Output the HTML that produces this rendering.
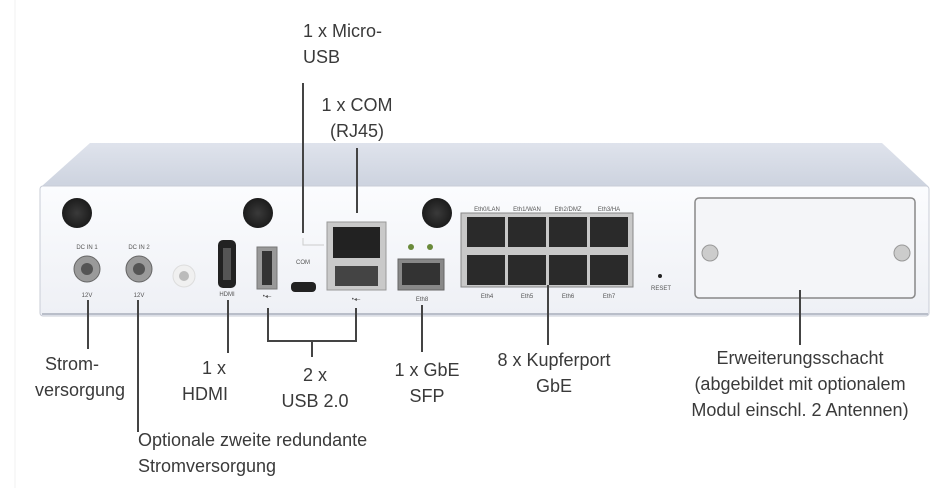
<!DOCTYPE html>
<html><head><meta charset="utf-8"><style>
html,body{margin:0;padding:0;background:#fff;}
svg{display:block;}
text{font-family:"Liberation Sans",sans-serif;fill:#3a3a3a;}
.l{font-size:18px;}
.s{font-size:6px;fill:#555;}
</style></head><body>
<svg width="951" height="488" viewBox="0 0 951 488" xmlns="http://www.w3.org/2000/svg">
<defs>
<linearGradient id="top" x1="0" y1="0" x2="0" y2="1"><stop offset="0" stop-color="#dfe3ec"/><stop offset="1" stop-color="#cdd3df"/></linearGradient>
<linearGradient id="face" x1="0" y1="0" x2="0" y2="1"><stop offset="0" stop-color="#fbfcfe"/><stop offset="1" stop-color="#eef0f5"/></linearGradient>
<radialGradient id="knob"><stop offset="0" stop-color="#3a3a3a"/><stop offset="1" stop-color="#1c1c1c"/></radialGradient>
</defs>
<line x1="15" y1="0" x2="15" y2="488" stroke="#f0f0f0"/>
<!-- device -->
<polygon points="90,143 882,143 928,186 42,186" fill="url(#top)"/>
<rect x="40" y="186" width="889" height="130" rx="3" fill="url(#face)" stroke="#c8ccd6"/>
<line x1="42" y1="314" x2="928" y2="314" stroke="#b9bec9" stroke-width="2"/>
<!-- knobs -->
<circle cx="77" cy="213" r="15" fill="url(#knob)"/>
<circle cx="258" cy="213" r="15" fill="url(#knob)"/>
<circle cx="437" cy="213" r="15" fill="url(#knob)"/>
<!-- DC -->
<text class="s" x="87" y="249" text-anchor="middle">DC IN 1</text>
<text class="s" x="139" y="249" text-anchor="middle">DC IN 2</text>
<circle cx="87" cy="269" r="13" fill="#9a9a9a" stroke="#666"/><circle cx="87" cy="269" r="6" fill="#555"/>
<circle cx="139" cy="269" r="13" fill="#9a9a9a" stroke="#666"/><circle cx="139" cy="269" r="6" fill="#555"/>
<text class="s" x="87" y="297" text-anchor="middle">12V</text>
<text class="s" x="139" y="297" text-anchor="middle">12V</text>
<circle cx="184" cy="276" r="11" fill="#f0f0f0" stroke="#ddd"/><circle cx="184" cy="276" r="5" fill="#bbb"/>
<!-- HDMI -->
<rect x="218" y="240" width="18" height="48" rx="5" fill="#222"/>
<rect x="223" y="248" width="8" height="32" fill="#555"/>
<text class="s" x="227" y="296" text-anchor="middle">HDMI</text>
<!-- USB1 -->
<rect x="257" y="247" width="20" height="42" fill="#999" stroke="#777"/>
<rect x="262" y="251" width="10" height="34" fill="#333"/>
<text class="s" x="267" y="298" text-anchor="middle">•◂–</text>
<!-- micro usb -->
<text class="s" x="303" y="264" text-anchor="middle">COM</text>
<path d="M303,238 V245 H324" stroke="#ccc" fill="none"/>
<rect x="291" y="282" width="25" height="10" rx="4" fill="#222"/>
<!-- COM + usb block -->
<rect x="327" y="222" width="59" height="68" fill="#c9c9c9" stroke="#999"/>
<rect x="333" y="227" width="47" height="31" fill="#222"/>
<rect x="335" y="266" width="43" height="20" fill="#444"/>
<text class="s" x="356" y="301" text-anchor="middle">•◂–</text>
<!-- SFP -->
<circle cx="411" cy="247" r="3" fill="#6a8a3a"/><circle cx="430" cy="247" r="3" fill="#6a8a3a"/>
<rect x="398" y="259" width="46" height="31" fill="#888" stroke="#666"/>
<rect x="402" y="263" width="38" height="22" fill="#333"/>
<text class="s" x="422" y="301" text-anchor="middle">Eth8</text>
<!-- eth -->
<text class="s" x="487" y="211" text-anchor="middle">Eth0/LAN</text>
<text class="s" x="527" y="211" text-anchor="middle">Eth1/WAN</text>
<text class="s" x="568" y="211" text-anchor="middle">Eth2/DMZ</text>
<text class="s" x="609" y="211" text-anchor="middle">Eth3/HA</text>
<rect x="461" y="213" width="172" height="74" fill="#c8c8c8" stroke="#888"/>
<g fill="#2a2a2a">
<rect x="467" y="217" width="38" height="30"/><rect x="508" y="217" width="38" height="30"/><rect x="549" y="217" width="38" height="30"/><rect x="590" y="217" width="38" height="30"/>
<rect x="467" y="255" width="38" height="30"/><rect x="508" y="255" width="38" height="30"/><rect x="549" y="255" width="38" height="30"/><rect x="590" y="255" width="38" height="30"/>
</g>
<text class="s" x="487" y="298" text-anchor="middle">Eth4</text>
<text class="s" x="527" y="298" text-anchor="middle">Eth5</text>
<text class="s" x="568" y="298" text-anchor="middle">Eth6</text>
<text class="s" x="609" y="298" text-anchor="middle">Eth7</text>
<circle cx="660" cy="276" r="2" fill="#222"/>
<text class="s" x="661" y="290" text-anchor="middle">RESET</text>
<!-- module -->
<rect x="695" y="198" width="220" height="100" rx="4" fill="#f4f5f8" stroke="#888" stroke-width="1.5"/>
<circle cx="710" cy="253" r="8" fill="#ccc" stroke="#999"/>
<circle cx="902" cy="253" r="8" fill="#ccc" stroke="#999"/>
<!-- connectors -->
<g stroke="#444" stroke-width="2" fill="none">
<line x1="303" y1="83" x2="303" y2="233"/>
<line x1="357" y1="148" x2="357" y2="213"/>
<line x1="88" y1="300" x2="88" y2="349"/>
<line x1="138" y1="300" x2="138" y2="432"/>
<line x1="228" y1="300" x2="228" y2="353"/>
<path d="M268,308 V341 H356 V308"/>
<line x1="312" y1="341" x2="312" y2="357"/>
<line x1="422" y1="305" x2="422" y2="352"/>
<line x1="548" y1="285" x2="548" y2="345"/>
<line x1="800" y1="290" x2="800" y2="345"/>
</g>
<!-- labels -->
<text class="l" x="303" y="37">1 x Micro-</text>
<text class="l" x="303" y="63">USB</text>
<text class="l" x="357" y="111" text-anchor="middle">1 x COM</text>
<text class="l" x="357" y="137" text-anchor="middle">(RJ45)</text>
<text class="l" x="72" y="370" text-anchor="middle">Strom-</text>
<text class="l" x="80" y="396" text-anchor="middle">versorgung</text>
<text class="l" x="214" y="374" text-anchor="middle">1 x</text>
<text class="l" x="205" y="400" text-anchor="middle">HDMI</text>
<text class="l" x="315" y="381" text-anchor="middle">2 x</text>
<text class="l" x="315" y="407" text-anchor="middle">USB 2.0</text>
<text class="l" x="427" y="376" text-anchor="middle">1 x GbE</text>
<text class="l" x="427" y="402" text-anchor="middle">SFP</text>
<text class="l" x="554" y="366" text-anchor="middle">8 x Kupferport</text>
<text class="l" x="554" y="392" text-anchor="middle">GbE</text>
<text class="l" x="800" y="364" text-anchor="middle">Erweiterungsschacht</text>
<text class="l" x="800" y="390" text-anchor="middle">(abgebildet mit optionalem</text>
<text class="l" x="800" y="416" text-anchor="middle">Modul einschl. 2 Antennen)</text>
<text class="l" x="138" y="446">Optionale zweite redundante</text>
<text class="l" x="138" y="472">Stromversorgung</text>
</svg>
</body></html>
